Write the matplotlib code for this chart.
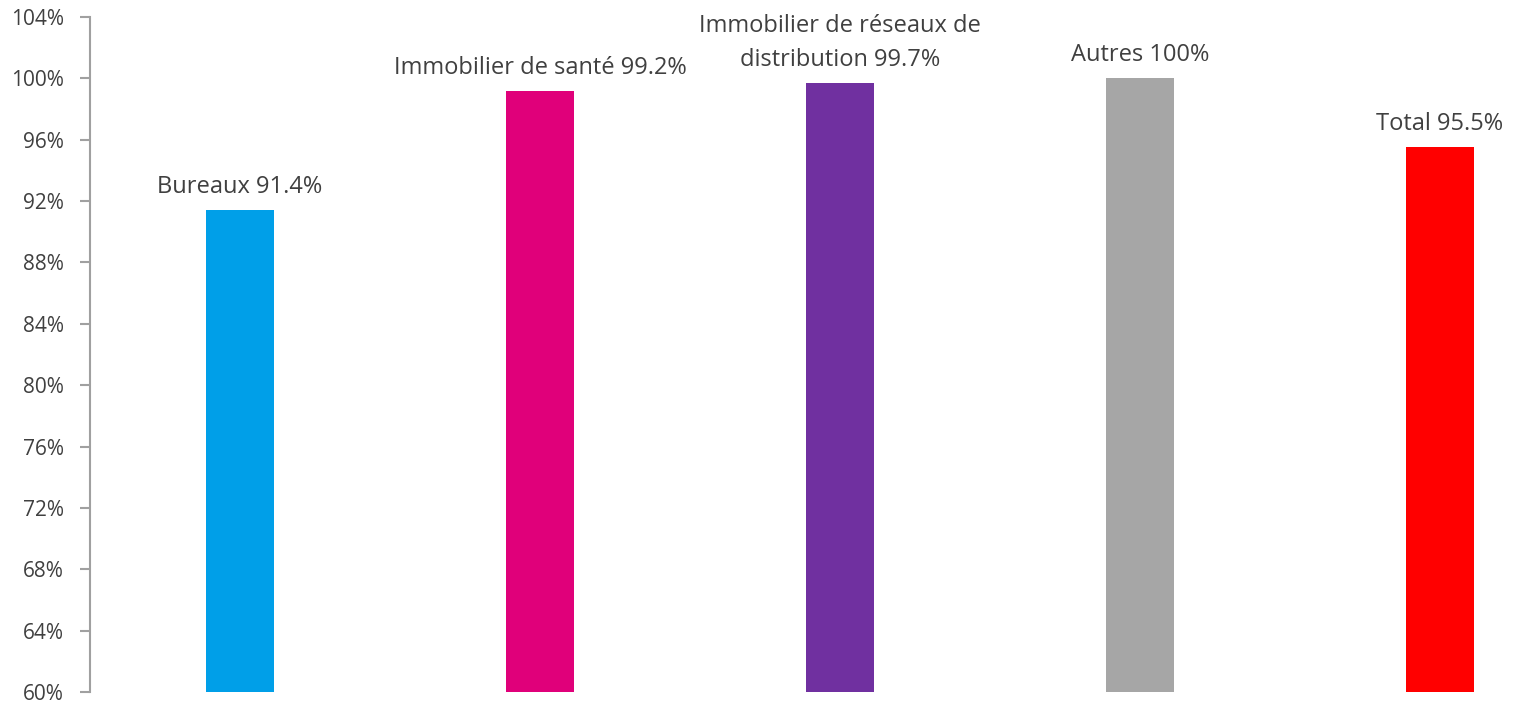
import matplotlib.pyplot as plt

labels = ['Bureaux 91.4%', 'Immobilier de santé 99.2%',
          'Immobilier de réseaux de\ndistribution 99.7%', 'Autres 100%', 'Total 95.5%']
values = [91.4, 99.2, 99.7, 100.0, 95.5]
colors = ['#009FE8', '#E0007A', '#7030A0', '#A6A6A6', '#FF0000']
yticks = list(range(60, 105, 4))

plt.rcParams['font.family'] = ['Open Sans', 'DejaVu Sans']
txt = '#404040'

fig = plt.figure(figsize=(15.14, 7.04), dpi=100)
ax = fig.add_axes([90/1514, 12/704, 1500/1514, 675/704])

x = range(len(values))
ax.bar(x, [v - 60 for v in values], bottom=60, width=0.227, color=colors)
for i, v in enumerate(values):
    ax.annotate(labels[i], (i, v), xytext=(0, 8), textcoords='offset points',
                ha='center', va='bottom', fontsize=17, color=txt, linespacing=1.55)

ax.set_xlim(-0.5, 4.5)
ax.set_ylim(60, 104)
ax.set_yticks(yticks)
ax.set_yticklabels([f'{t}%' for t in yticks], fontsize=15, color=txt)
ax.set_xticks([])
for s in ['top', 'right', 'bottom']:
    ax.spines[s].set_visible(False)
ax.spines['left'].set_color('#A0A0A0')
ax.spines['left'].set_linewidth(1.5)
ax.tick_params(axis='y', length=7, width=1.5, color='#A0A0A0', pad=12)

fig.savefig('out.png', dpi=100)
